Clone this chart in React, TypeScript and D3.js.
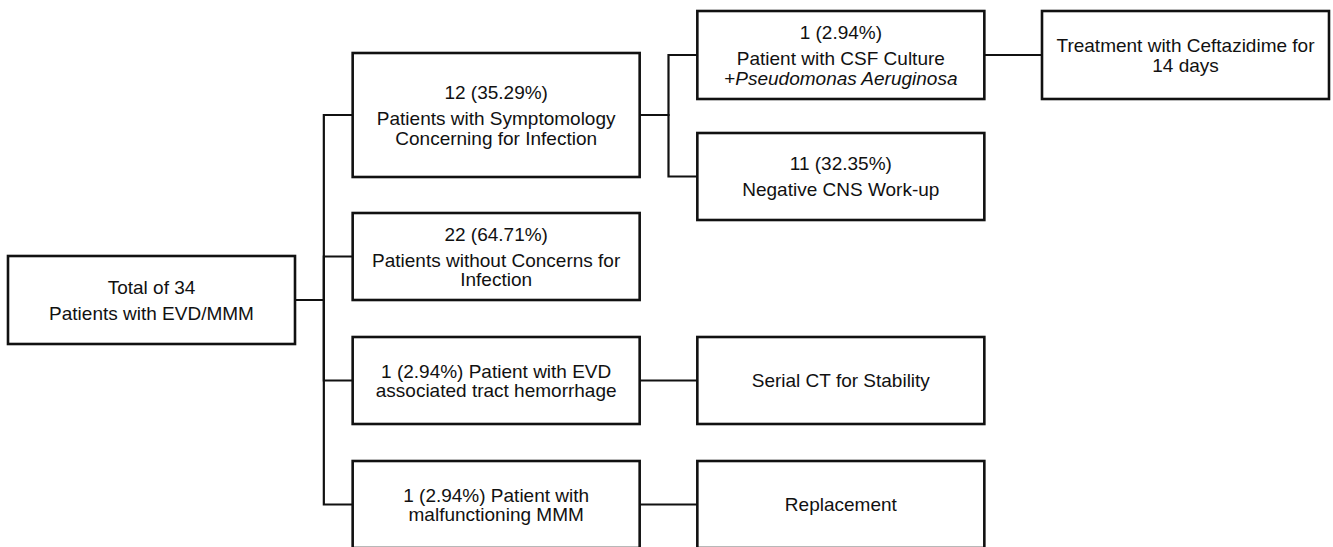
import React from "react";
import * as d3 from "d3";

// ---- data ----
const nodeIds = [
  "total",
  "symptom",
  "noConcern",
  "hemorrhage",
  "malfunction",
  "csf",
  "negative",
  "ceftazidime",
  "serialCT",
  "replacement",
];
const nodeParents: (string | null)[] = [
  null,
  "total",
  "total",
  "total",
  "total",
  "symptom",
  "symptom",
  "csf",
  "hemorrhage",
  "malfunction",
];
// paragraphs of lines; *text* = italic
const nodeLabels: string[][][] = [
  [["Total of 34"], ["Patients with EVD/MMM"]],
  [["12 (35.29%)"], ["Patients with Symptomology", "Concerning for Infection"]],
  [["22 (64.71%)"], ["Patients without Concerns for", "Infection"]],
  [["1 (2.94%) Patient with EVD", "associated tract hemorrhage"]],
  [["1 (2.94%) Patient with", "malfunctioning MMM"]],
  [["1 (2.94%)"], ["Patient with CSF Culture", "+*Pseudomonas Aeruginosa*"]],
  [["11 (32.35%)"], ["Negative CNS Work-up"]],
  [["Treatment with Ceftazidime for", "14 days"]],
  [["Serial CT for Stability"]],
  [["Replacement"]],
];

// ---- layout (positions, separate from data) ----
const layout: Record<string, { col: number; top: number; bottom: number }> = {
  total: { col: 0, top: 256, bottom: 344 },
  symptom: { col: 1, top: 53, bottom: 177 },
  noConcern: { col: 1, top: 213, bottom: 300 },
  hemorrhage: { col: 1, top: 337, bottom: 424 },
  malfunction: { col: 1, top: 461, bottom: 548 },
  csf: { col: 2, top: 11, bottom: 99 },
  negative: { col: 2, top: 133, bottom: 220 },
  ceftazidime: { col: 3, top: 11, bottom: 99 },
  serialCT: { col: 2, top: 337, bottom: 424 },
  replacement: { col: 2, top: 461, bottom: 548 },
};

const W = 1333;
const H = 547;
const BOX_W = 287;
const FONT = 19;
const LINE_GAP = 19.5;
const PARA_GAP = 26;
const INK = "#111";

const xCol = d3.scaleLinear().domain([0, 3]).range([8, 1042]);

function parseSegments(s: string) {
  const parts = s.split("*");
  return parts.map((t, i) => ({ t, italic: i % 2 === 1 })).filter((p) => p.t.length);
}

export default function App() {
  const nodes = nodeIds.map((id, i) => {
    const l = layout[id];
    const x = xCol(l.col);
    return {
      id,
      parent: nodeParents[i],
      label: nodeLabels[i],
      x,
      y: l.top,
      w: BOX_W,
      h: l.bottom - l.top,
      cx: x + BOX_W / 2,
      cy: (l.top + l.bottom) / 2,
    };
  });
  const byId = new Map(nodes.map((n) => [n.id, n]));

  const links = nodes
    .filter((n) => n.parent)
    .map((n) => {
      const p = byId.get(n.parent as string)!;
      const x0 = p.x + p.w;
      const x1 = n.x;
      const mx = (x0 + x1) / 2;
      const path = d3.path();
      path.moveTo(x0, p.cy);
      path.lineTo(mx, p.cy);
      path.lineTo(mx, n.cy);
      path.lineTo(x1, n.cy);
      return { id: n.id, d: path.toString() };
    });

  return (
    <svg
      width={W}
      height={H}
      style={{ position: "absolute", left: 0, top: 0, background: "#fff" }}
      fontFamily="'Liberation Sans', Arial, sans-serif"
      fontSize={FONT}
    >
      <rect x={0} y={0} width={W} height={H} fill="#fff" />
      {links.map((l) => (
        <path key={l.id} d={l.d} fill="none" stroke={INK} strokeWidth={2.2} />
      ))}
      {nodes.map((n) => {
        const offsets: { text: string; dy: number }[] = [];
        let y = 0;
        n.label.forEach((para, pi) => {
          para.forEach((line, li) => {
            if (pi > 0 && li === 0) y += PARA_GAP;
            else if (li > 0) y += LINE_GAP;
            offsets.push({ text: line, dy: y });
          });
        });
        const total = y;
        const base = n.cy - total / 2 + FONT * 0.36;
        return (
          <g key={n.id}>
            <rect
              x={n.x}
              y={n.y}
              width={n.w}
              height={n.h}
              fill="#fff"
              stroke={INK}
              strokeWidth={2.6}
            />
            {offsets.map((o, i) => (
              <text
                key={i}
                x={n.cx}
                y={base + o.dy}
                textAnchor="middle"
                fill="#111"
              >
                {parseSegments(o.text).map((s, j) => (
                  <tspan key={j} fontStyle={s.italic ? "italic" : "normal"}>
                    {s.t}
                  </tspan>
                ))}
              </text>
            ))}
          </g>
        );
      })}
    </svg>
  );
}
